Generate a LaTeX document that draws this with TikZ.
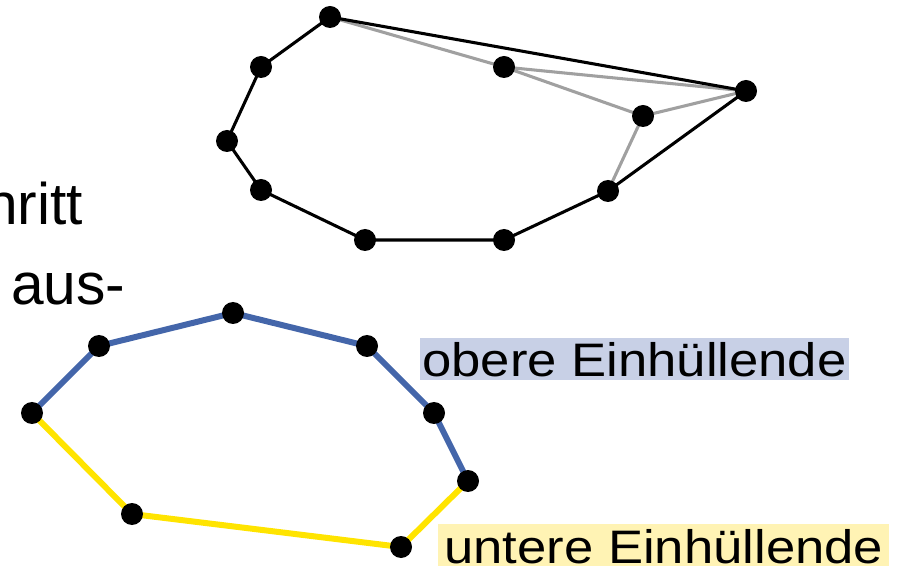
\documentclass[tikz,border=0pt]{standalone}
\usepackage{fontspec}
\setmainfont{Liberation Sans}
\newfontfamily\labfont[FakeStretch=1.12]{Liberation Sans}
\definecolor{hullblue}{RGB}{68,102,170}
\definecolor{hullyellow}{RGB}{255,228,0}
\definecolor{boxblue}{RGB}{200,208,230}
\definecolor{boxyellow}{RGB}{255,243,180}
\definecolor{innergray}{RGB}{160,160,160}
\tikzset{
  pt/.style={circle,fill=black,inner sep=0pt,minimum size=16.5pt},
  hull/.style={draw=black,line width=2.3pt},
  inner/.style={draw=innergray,line width=2.3pt},
  upper/.style={draw=hullblue,line width=4.5pt},
  lower/.style={draw=hullyellow,line width=4.5pt},
  bigtext/.style={font=\fontsize{44}{52}\selectfont,inner sep=0pt,anchor=base west},
  label/.style={font=\labfont\fontsize{35.25}{42}\selectfont,inner ysep=0pt,anchor=base west,text height=29.25pt,text depth=2.25pt}
}
\begin{document}
\begin{tikzpicture}[x=0.75pt,y=-0.75pt]
\useasboundingbox (0,0) rectangle (903,566);
\clip (0,0) rectangle (903,566);
% left text fragments
\node[bigtext] (t1) at (-15,225) {hritt};
\node[bigtext] (t2) at (11,305) {aus-};
% top polygon
\coordinate (A) at (330,17);
\coordinate (B) at (261,67);
\coordinate (C) at (227,141);
\coordinate (D) at (261,190);
\coordinate (E) at (365,240);
\coordinate (F) at (504,240);
\coordinate (G) at (608,191);
\coordinate (H) at (746,91);
\coordinate (I) at (643,116);
\coordinate (J) at (504,67);
\draw[inner] (A) -- (J) -- (H);
\draw[inner] (J) -- (I) -- (H);
\draw[inner] (I) -- (G);
\draw[hull] (A) -- (B) -- (C) -- (D) -- (E) -- (F) -- (G) -- (H) -- cycle;
\foreach \p in {A,B,C,D,E,F,G,H,I,J} \node[pt] (n\p) at (\p) {};
% bottom polygon
\coordinate (P1) at (32,413);
\coordinate (P2) at (99,346);
\coordinate (P3) at (233,313);
\coordinate (P4) at (367,346);
\coordinate (P5) at (434,413);
\coordinate (P6) at (468,481);
\coordinate (P7) at (401,547);
\coordinate (P8) at (132,514);
\draw[lower,line join=round] (P6) -- (P7) -- (P8) -- (P1);
\draw[upper,line join=round] (P1) -- (P2) -- (P3) -- (P4) -- (P5) -- (P6);
\foreach \p in {P1,P2,P3,P4,P5,P6,P7,P8} \node[pt] (n\p) at (\p) {};
% labels
\node[label,fill=boxblue,inner xsep=1.5pt] (lo) at (420,377) {obere Einhüllende};
\node[label,fill=boxyellow,inner xsep=4.5pt] (lu) at (438,563) {untere Einhüllende};
\end{tikzpicture}
\end{document}
